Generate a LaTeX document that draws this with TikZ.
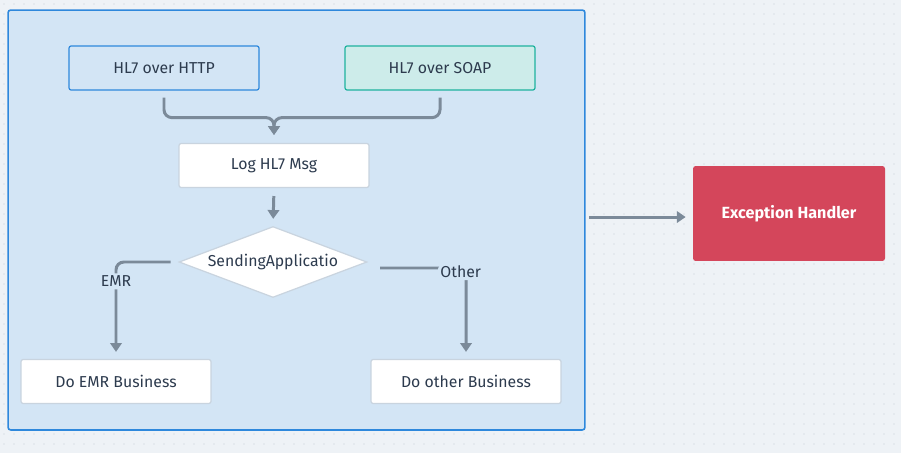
\documentclass[tikz,border=0pt]{standalone}
\usepackage{fontspec}
\setmainfont{Fira Sans}
\usetikzlibrary{shapes.geometric,arrows.meta}

\definecolor{bgcol}{HTML}{EEF2F6}
\definecolor{dotcol}{HTML}{C4CCD6}
\definecolor{grpfill}{HTML}{D3E5F5}
\definecolor{grpline}{HTML}{2E88DC}
\definecolor{soapfill}{HTML}{CDECEA}
\definecolor{soapline}{HTML}{1FB29E}
\definecolor{boxline}{HTML}{C9D4DF}
\definecolor{flowcol}{HTML}{7B8A99}
\definecolor{txtcol}{HTML}{2D3B4E}
\definecolor{errfill}{HTML}{D4465B}

\tikzstyle{box} = [draw=boxline, fill=white, line width=0.7pt, rounded corners=1.2pt,
  minimum width=3.8cm, minimum height=0.88cm, inner sep=0pt, text=txtcol]
\tikzstyle{flow} = [draw=flowcol, line width=1.7pt, rounded corners=4.5pt,
  -{Triangle[length=5pt,width=6.5pt]}]
\tikzstyle{lbl} = [fill=grpfill, text=txtcol, inner sep=1.5pt]

\begin{document}
\begin{tikzpicture}[x=0.02cm, y=-0.02cm, font=\fontsize{9pt}{10.5pt}\selectfont]

% background with dots
\fill[bgcol] (0,0) rectangle (901,453);
\foreach \i in {0,...,89} {%
 \foreach \j in {0,...,44} {%
  \fill[dotcol] (4+\i*10,4+\j*10) circle (0.65);
 }
}

% GROUP
\node[draw=grpline, fill=grpfill, line width=0.9pt, rounded corners=1.5pt,
  minimum width=11.54cm, minimum height=8.4cm] (grp) at (296.5,220) {};

% SOURCES
\node[box, draw=grpline, fill=grpfill] (http) at (164,68) {HL7 over HTTP};
\node[box, draw=soapline, fill=soapfill] (soap) at (440,68) {HL7 over SOAP};

% LOG
\node[box] (log) at (274,165.5) {Log HL7 Msg};
\draw[flow, shorten <=4pt, shorten >=4.5pt] (http.south) -- ++(0,27) -| (log.north);
\draw[flow, shorten <=4pt, shorten >=4.5pt] (soap.south) -- ++(0,27) -| (log.north);

% DECISION
\node[diamond, draw=boxline, fill=white, line width=0.7pt, aspect=2.65,
  minimum width=3.76cm, minimum height=1.42cm, inner sep=0pt, text=txtcol] (dec) at (273,262) {SendingApplicatio};
\draw[flow, shorten <=4.5pt, shorten >=4pt] (log.south) -- (dec.north);

% BRANCHES
\node[box] (emrbiz) at (116,381.5) {Do EMR Business};
\node[box] (othbiz) at (466,381.5) {Do other Business};
\draw[flow, shorten <=4.5pt, shorten >=4pt] (dec.west) -| node[lbl, pos=0.6] {EMR} (emrbiz.north);
\coordinate (othstart) at (380,268);
\draw[flow, shorten >=4pt] (othstart) -| node[lbl, pos=0.5, xshift=-3pt, yshift=-2pt] {Other} (othbiz.north);

% EXCEPTION
\node[fill=errfill, rounded corners=1.5pt, minimum width=3.84cm, minimum height=1.9cm,
  text=white, font=\fontsize{9.2pt}{10.5pt}\selectfont\bfseries] (exc) at (789,213.5) {Exception Handler};
\coordinate (excin) at ([yshift=-2pt]grp.east |- exc.west);
\draw[flow, shorten <=2pt, shorten >=4pt] (excin) -- (excin -| exc.west);

\end{tikzpicture}
\end{document}
